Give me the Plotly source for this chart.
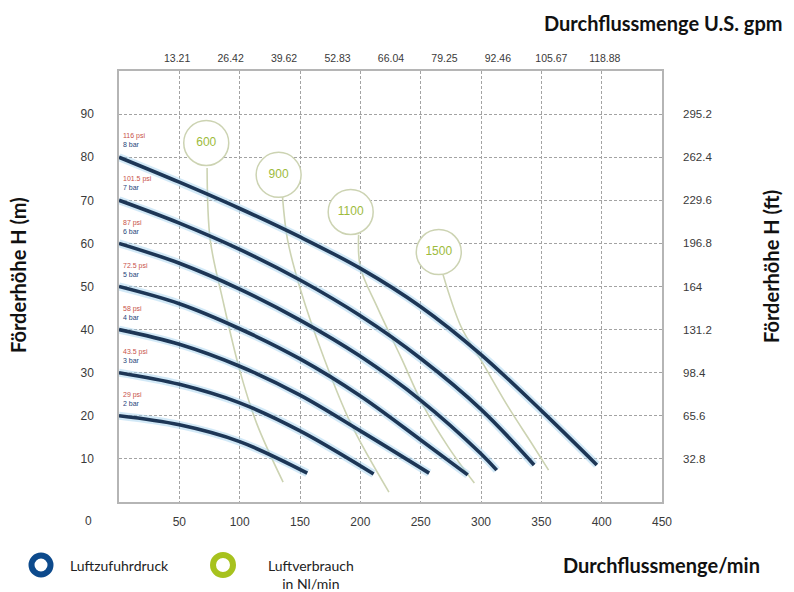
import plotly.graph_objects as go

# ---------------- data ----------------
flow_ticks = [50, 100, 150, 200, 250, 300, 350, 400, 450]
flow_tick_labels = ["50", "100", "150", "200", "250", "300", "350", "400", "450"]
gpm_tick_labels = ["13.21", "26.42", "39.62", "52.83", "66.04", "79.25", "92.46", "105.67", "118.88"]
head_m_ticks = [10, 20, 30, 40, 50, 60, 70, 80, 90]
head_m_labels = ["10", "20", "30", "40", "50", "60", "70", "80", "90"]
head_ft_labels = ["32.8", "65.6", "98.4", "131.2", "164", "196.8", "229.6", "262.4", "295.2"]

bar_labels = ["8 bar", "7 bar", "6 bar", "5 bar", "4 bar", "3 bar", "2 bar"]
psi_labels = ["116 psi", "101.5 psi", "87 psi", "72.5 psi", "58 psi", "43.5 psi", "29 psi"]

q_8bar = [0, 50, 100, 150, 200, 250, 300, 350, 396]
h_8bar = [80, 74.2, 68.1, 61.5, 54.2, 45.3, 34.2, 21.2, 8.6]
q_7bar = [0, 50, 100, 150, 200, 250, 300, 344]
h_7bar = [70, 64.7, 58.6, 51.5, 43.2, 33.3, 21.5, 8.6]
q_6bar = [0, 50, 100, 150, 200, 250, 300, 313]
h_6bar = [60, 55.4, 49.4, 42.2, 33.8, 23.6, 11.2, 7.4]
q_5bar = [0, 50, 100, 150, 200, 250, 289]
h_5bar = [50, 46, 40.2, 33.2, 24.6, 14.4, 6.3]
q_4bar = [0, 50, 100, 150, 200, 257]
h_4bar = [40, 36.6, 31.5, 24.8, 16.5, 6.7]
q_3bar = [0, 50, 100, 150, 211]
h_3bar = [30, 27.3, 23, 16.5, 6.5]
q_2bar = [0, 50, 100, 156]
h_2bar = [20, 17.9, 14, 6.7]

air_labels = ["600", "900", "1100", "1500"]
air_circle_q = [72.3, 132.3, 192, 265]
air_circle_h = [83.3, 75.9, 67.3, 58]
q_air600 = [73, 75.6, 86, 100, 114, 136]
h_air600 = [77.5, 60.8, 46.9, 30.6, 18.3, 4.6]
q_air900 = [135.5, 139.7, 150.5, 169.6, 192, 223.7]
h_air900 = [70.8, 60.8, 49.2, 33.6, 18.3, 2.3]
q_air1100 = [198.6, 200, 214, 233.6, 252.8, 272.8, 294.5]
h_air1100 = [62, 54.5, 45.2, 33.6, 22, 12.8, 4.4]
q_air1500 = [268.6, 283.6, 300, 322.7, 341.8, 356]
h_air1500 = [52.7, 40.6, 32.9, 22, 13.7, 7.4]

# ---------------- styling ----------------
W, H = 794, 592
L, R, T, B = 119, 662, 71, 502
NAVY = "#1d3656"
GLOW = "rgba(165,212,240,0.5)"
AIR_LINE = "#ccd3b2"
AIR_TEXT = "#9dbb3c"
PSI_COL = "#c8524a"
BAR_COL = "#27457a"
GRID = "#a3a3a3"
NARROW = "Liberation Sans Narrow, Liberation Sans, Arial"
TICK_FONT = dict(family=NARROW, size=11.5, color="#3a3a3a")
BOLD_FONT = dict(family="Lato, Open Sans, Arial", size=20, color="#111111")
# top (gpm) labels sit slightly compressed towards the right in the original
gpm_label_pos = [48.2 + 44.3 * i for i in range(9)]


def px(xp):
    return (xp - L) / (R - L)


def py(yp):
    return (B - yp) / (B - T)


fig = go.Figure()

curves_q = [q_8bar, q_7bar, q_6bar, q_5bar, q_4bar, q_3bar, q_2bar]
curves_h = [h_8bar, h_7bar, h_6bar, h_5bar, h_4bar, h_3bar, h_2bar]

# air consumption lines
for qa, ha in [(q_air600, h_air600), (q_air900, h_air900), (q_air1100, h_air1100), (q_air1500, h_air1500)]:
    fig.add_trace(go.Scatter(x=qa, y=ha, mode="lines", line=dict(color=AIR_LINE, width=1.6, shape="spline"),
                             hoverinfo="skip", showlegend=False))

# glow under pressure curves
for qc, hc in zip(curves_q, curves_h):
    fig.add_trace(go.Scatter(x=qc, y=hc, mode="lines", line=dict(color=GLOW, width=8, shape="spline"),
                             hoverinfo="skip", showlegend=False))
# pressure curves
for qc, hc, bl in zip(curves_q, curves_h, bar_labels):
    fig.add_trace(go.Scatter(x=qc, y=hc, mode="lines", name=bl,
                             line=dict(color=NAVY, width=3.6, shape="spline"), showlegend=False))

# air consumption circles
fig.add_trace(go.Scatter(x=air_circle_q, y=air_circle_h, mode="markers+text", text=air_labels,
                         textposition="middle center",
                         textfont=dict(family=NARROW, size=12, color=AIR_TEXT),
                         marker=dict(symbol="circle", size=45, color="white",
                                     line=dict(color=AIR_LINE, width=1.5)),
                         hoverinfo="skip", showlegend=False))

# dummy trace for secondary axes
fig.add_trace(go.Scatter(x=[0], y=[0], xaxis="x2", yaxis="y2", mode="markers",
                         marker=dict(opacity=0), hoverinfo="skip", showlegend=False))

annotations = []
# curve labels (psi / bar)
for hc, ps, bl in zip(curves_h, psi_labels, bar_labels):
    annotations.append(dict(x=1.5, y=hc[0] + 1.6, xref="x", yref="y", xanchor="left", yanchor="bottom",
                            showarrow=False, align="left",
                            text=f"<span style='color:{PSI_COL}'>{ps}</span><br><span style='color:{BAR_COL}'>{bl}</span>",
                            font=dict(family=NARROW, size=7)))

# stray zero label
annotations.append(dict(x=px(88), y=py(521), xref="paper", yref="paper", text="0", showarrow=False,
                        xanchor="center", yanchor="middle", font=dict(TICK_FONT, size=12)))
# axis titles
annotations.append(dict(x=px(18), y=py(275), xref="paper", yref="paper", text="<b>Förderhöhe H (m)</b>",
                        textangle=-90, showarrow=False, xanchor="center", yanchor="middle", font=BOLD_FONT))
annotations.append(dict(x=px(771), y=py(267), xref="paper", yref="paper", text="<b>Förderhöhe H (ft)</b>",
                        textangle=-90, showarrow=False, xanchor="center", yanchor="middle", font=BOLD_FONT))
annotations.append(dict(x=px(785), y=py(23), xref="paper", yref="paper", text="<b>Durchflussmenge U.S. gpm</b>",
                        showarrow=False, xanchor="right", yanchor="middle", font=BOLD_FONT))
annotations.append(dict(x=px(762), y=py(565), xref="paper", yref="paper", text="<b>Durchflussmenge/min</b>",
                        showarrow=False, xanchor="right", yanchor="middle", font=BOLD_FONT))
# legend texts
LEG_FONT = dict(family="Lato, Open Sans, Arial", size=14, color="#222222")
annotations.append(dict(x=px(68), y=py(565), xref="paper", yref="paper", text="Luftzufuhrdruck",
                        showarrow=False, xanchor="left", yanchor="middle", font=LEG_FONT))
annotations.append(dict(x=px(311), y=py(574), xref="paper", yref="paper", text="Luftverbrauch<br>in Nl/min",
                        showarrow=False, xanchor="center", yanchor="middle", align="center", font=LEG_FONT))

shapes = [
    dict(type="circle", xref="paper", yref="paper", xsizemode="pixel", ysizemode="pixel",
         xanchor=px(41), yanchor=py(565), x0=-9.5, x1=9.5, y0=-9.5, y1=9.5,
         line=dict(color="#0d4a8c", width=6), fillcolor="rgba(0,0,0,0)"),
    dict(type="circle", xref="paper", yref="paper", xsizemode="pixel", ysizemode="pixel",
         xanchor=px(223), yanchor=py(565), x0=-10, x1=10, y0=-10, y1=10,
         line=dict(color="#a7c21e", width=6), fillcolor="rgba(0,0,0,0)"),
]

fig.update_layout(
    width=W, height=H,
    margin=dict(l=L, r=W - R, t=T, b=H - B, pad=0),
    paper_bgcolor="white", plot_bgcolor="white",
    showlegend=False,
    annotations=annotations, shapes=shapes,
    xaxis=dict(range=[0, 450], tickvals=flow_ticks, ticktext=flow_tick_labels, tickfont=dict(TICK_FONT, size=12),
               showgrid=True, gridcolor=GRID, griddash="3px,2px", gridwidth=1,
               showline=True, mirror=True, linecolor="#b5b5b5", linewidth=1.5,
               ticks="", ticklabelstandoff=8, zeroline=False, fixedrange=True),
    yaxis=dict(range=[0, 100], tickvals=head_m_ticks, ticktext=head_m_labels, tickfont=dict(TICK_FONT, size=12),
               showgrid=True, gridcolor=GRID, griddash="3px,2px", gridwidth=1,
               showline=True, mirror=True, linecolor="#b5b5b5", linewidth=1.5,
               ticks="", ticklabelstandoff=21, zeroline=False, fixedrange=True),
    xaxis2=dict(range=[0, 450], overlaying="x", side="top", tickvals=gpm_label_pos, ticktext=gpm_tick_labels,
                tickfont=dict(TICK_FONT, size=10.5), showgrid=False, showline=False, ticks="",
                ticklabelstandoff=6, zeroline=False, fixedrange=True),
    yaxis2=dict(range=[0, 100], overlaying="y", side="right", tickvals=head_m_ticks, ticktext=head_ft_labels,
                tickfont=TICK_FONT, showgrid=False, showline=False, ticks="",
                ticklabelstandoff=20, zeroline=False, fixedrange=True),
)

fig.write_html("out.html", config={"displayModeBar": False}, post_script="document.body.style.margin='0';")
